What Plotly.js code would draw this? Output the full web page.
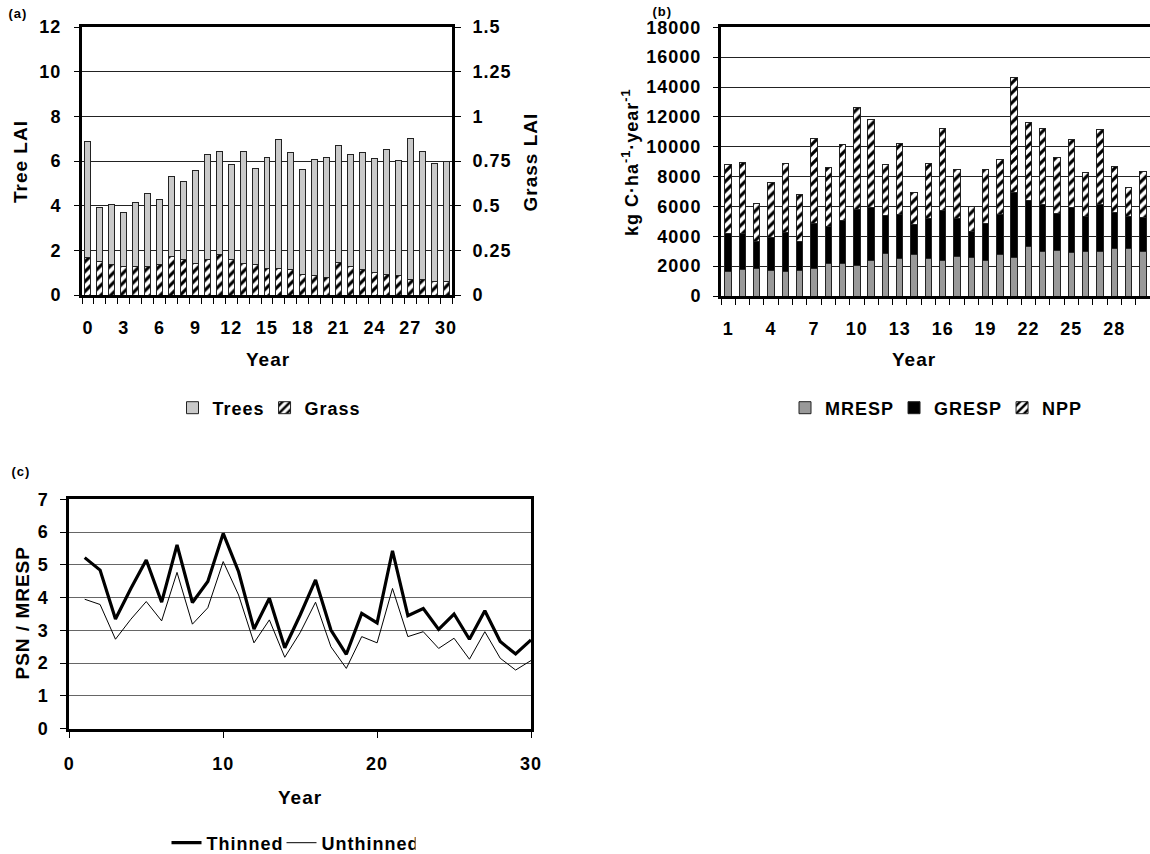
<!DOCTYPE html>
<html>
<head>
<meta charset="utf-8">
<script src="https://cdn.plot.ly/plotly-3.0.1.min.js"></script>
<style>
body{margin:0;padding:0;background:#fff;}
#chart{width:1150px;height:854px;}
.main-svg text{letter-spacing:1px;}
</style>
</head>
<body>
<div id="chart"></div>
<script>
// ---- Panel (a): LAI ----
const yearsA = [0,1,2,3,4,5,6,7,8,9,10,11,12,13,14,15,16,17,18,19,20,21,22,23,24,25,26,27,28,29,30];
const treeLAI = [6.89,3.92,4.05,3.70,4.13,4.55,4.28,5.31,5.08,5.59,6.28,6.41,5.84,6.44,5.65,6.16,6.98,6.37,5.62,6.07,6.16,6.68,6.30,6.37,6.10,6.51,6.04,7.00,6.44,5.89,6.00];
const grassLAI = [0.210,0.186,0.171,0.160,0.160,0.160,0.171,0.218,0.200,0.177,0.200,0.227,0.200,0.177,0.168,0.149,0.149,0.140,0.117,0.110,0.099,0.180,0.158,0.140,0.127,0.117,0.108,0.088,0.088,0.078,0.078];
const tickYearsA = [0,3,6,9,12,15,18,21,24,27,30];
const treeTicks = [0,2,4,6,8,10,12];
const grassTicks = [0,0.25,0.5,0.75,1,1.25,1.5];

// ---- Panel (b): carbon budget ----
const yearsB = [1,2,3,4,5,6,7,8,9,10,11,12,13,14,15,16,17,18,19,20,21,22,23,24,25,26,27,28,29,30];
const mresp = [1633,1790,1834,1700,1655,1700,1812,2192,2192,2036,2371,2864,2506,2752,2506,2371,2640,2573,2349,2752,2595,3311,2975,3020,2908,2975,2975,3199,3199,2975];
const gresp = [2573,2371,1813,2215,2595,1947,3020,2461,2842,3736,3580,2527,2975,2013,2662,3356,2528,1745,2528,2729,4362,3087,3177,2483,3020,2349,3132,2394,2125,2282];
const npp   = [4631,4788,2572,3691,4609,3132,5705,3937,5100,6823,5906,3401,4765,2170,3736,5526,3288,1678,3624,3691,7651,5235,5056,3781,4587,2953,5034,3087,1969,3088];
const tickYearsB = [1,4,7,10,13,16,19,22,25,28];
const carbonTicks = [0,2000,4000,6000,8000,10000,12000,14000,16000,18000];

// ---- Panel (c): PSN / MRESP ----
const yearsC = [1,2,3,4,5,6,7,8,9,10,11,12,13,14,15,16,17,18,19,20,21,22,23,24,25,26,27,28,29,30];
const thinned   = [5.22,4.84,3.35,4.28,5.15,3.86,5.61,3.85,4.49,5.96,4.79,3.04,3.98,2.47,3.47,4.54,3.01,2.27,3.52,3.23,5.43,3.45,3.67,3.03,3.50,2.73,3.60,2.66,2.28,2.71];
const unthinned = [3.95,3.79,2.73,3.34,3.88,3.29,4.77,3.19,3.69,5.10,4.08,2.62,3.32,2.18,2.93,3.86,2.50,1.84,2.81,2.62,4.28,2.81,2.96,2.45,2.76,2.12,2.96,2.15,1.79,2.08];
const tickYearsC = [0,10,20,30];
const ratioTicks = [0,1,2,3,4,5,6,7];

const FONT = 'Liberation Sans, Arial, Helvetica, sans-serif';
const bold = a => a.map(v => '<b>' + v + '</b>');
const tickFont = {family: FONT, size: 18, color: '#000', weight: 'bold'};
const hatch = {shape: '/', fgcolor: '#000', bgcolor: '#fff', size: 7, solidity: 0.45, fillmode: 'replace'};
const outline = {color: '#222', width: 1};

const traces = [
  {type: 'bar', name: '<b>Trees</b>', x: yearsA, y: treeLAI, xaxis: 'x', yaxis: 'y', width: 0.5,
   marker: {color: '#c9c9c9', line: outline}, legend: 'legend'},
  {type: 'bar', name: '<b>Grass</b>', x: yearsA, y: grassLAI, xaxis: 'x', yaxis: 'y2', width: 0.5,
   marker: {color: '#fff', pattern: hatch, line: outline}, legend: 'legend'},
  {type: 'bar', name: '<b>MRESP</b>', x: yearsB, y: mresp, xaxis: 'x2', yaxis: 'y3', width: 0.45,
   marker: {color: '#999999', line: outline}, legend: 'legend2'},
  {type: 'bar', name: '<b>GRESP</b>', x: yearsB, y: gresp, xaxis: 'x2', yaxis: 'y3', width: 0.45,
   marker: {color: '#000000', line: outline}, legend: 'legend2'},
  {type: 'bar', name: '<b>NPP</b>', x: yearsB, y: npp, xaxis: 'x2', yaxis: 'y3', width: 0.45,
   marker: {color: '#fff', pattern: hatch, line: outline}, legend: 'legend2'},
  {type: 'scatter', mode: 'lines', name: '<b>Thinned</b>', x: yearsC, y: thinned, xaxis: 'x3', yaxis: 'y4',
   line: {color: '#000', width: 3.2}, legend: 'legend3'},
  {type: 'scatter', mode: 'lines', name: '<b>Unthinned</b>', x: yearsC, y: unthinned, xaxis: 'x3', yaxis: 'y4',
   line: {color: '#000', width: 1}, legend: 'legend3'}
];

const W = 1150, H = 854;
const px = v => v / W;
const py = v => (H - v) / H;

const legendBase = {orientation: 'h', font: {family: FONT, size: 18, color: '#000', weight: 'bold'},
  bgcolor: 'rgba(0,0,0,0)', xanchor: 'center', yanchor: 'middle', itemwidth: 30, traceorder: 'normal'};

const titleFont = {family: FONT, size: 19, color: '#000', weight: 'bold'};
const ann = (text, x, y, font, angle) => ({text: text, x: px(x), y: py(y), xref: 'paper', yref: 'paper',
  xanchor: 'center', yanchor: 'middle', showarrow: false, textangle: angle || 0, font: font});
const labelFont = {family: FONT, size: 13, color: '#000', weight: 'bold'};

const layout = {
  width: W, height: H,
  margin: {l: 0, r: 0, t: 0, b: 0, autoexpand: false},
  paper_bgcolor: '#fff', plot_bgcolor: '#fff',
  barmode: 'stack',
  showlegend: true,
  font: {family: FONT, color: '#000'},
  // Panel (a)
  xaxis: {domain: [px(82), px(452)], anchor: 'y', range: [-0.5, 30.5],
    tickmode: 'array', tickvals: tickYearsA, ticktext: bold(tickYearsA),
    ticks: 'outside', ticklen: 6, tickcolor: 'rgba(0,0,0,0)', ticklabelstandoff: 8,
    minor: {tick0: -0.5, dtick: 1, ticks: 'outside', ticklen: 6, tickcolor: '#000', tickwidth: 1, showgrid: false},
    showline: true, linewidth: 3, linecolor: '#000', mirror: true, showgrid: false, zeroline: false,
    tickfont: tickFont},
  yaxis: {domain: [py(295), py(27)], anchor: 'x', range: [0, 12],
    tickmode: 'array', tickvals: treeTicks, ticktext: bold(treeTicks),
    ticks: 'outside', ticklen: 5, tickcolor: '#000', ticklabelstandoff: 9,
    showline: true, linewidth: 3, linecolor: '#000', mirror: true,
    showgrid: true, gridcolor: '#222', gridwidth: 1, zeroline: false, tickfont: tickFont},
  yaxis2: {overlaying: 'y', side: 'right', anchor: 'x', range: [0, 1.5],
    tickmode: 'array', tickvals: grassTicks, ticktext: bold(grassTicks),
    ticks: 'outside', ticklen: 6, tickcolor: '#000', ticklabelstandoff: 8,
    showline: true, linewidth: 3, linecolor: '#000', showgrid: false, zeroline: false, tickfont: tickFont},
  // Panel (b)
  xaxis2: {domain: [px(721), 1], anchor: 'y3', range: [0.5, 30.5],
    tickmode: 'array', tickvals: tickYearsB, ticktext: bold(tickYearsB),
    ticks: 'outside', ticklen: 6, tickcolor: 'rgba(0,0,0,0)', ticklabelstandoff: 8,
    minor: {tick0: 0.5, dtick: 1, ticks: 'outside', ticklen: 6, tickcolor: '#000', tickwidth: 1, showgrid: false},
    showline: true, linewidth: 3, linecolor: '#000', mirror: true, showgrid: false, zeroline: false,
    tickfont: tickFont},
  yaxis3: {domain: [py(296), py(27.3)], anchor: 'x2', range: [0, 18000],
    tickmode: 'array', tickvals: carbonTicks, ticktext: bold(carbonTicks),
    ticks: 'outside', ticklen: 5, tickcolor: '#000', ticklabelstandoff: 8,
    showline: true, linewidth: 3, linecolor: '#000', mirror: false,
    showgrid: true, gridcolor: '#222', gridwidth: 1, zeroline: false, tickfont: tickFont},
  // Panel (c)
  xaxis3: {domain: [px(69.3), px(531)], anchor: 'y4', range: [0, 30],
    tickmode: 'array', tickvals: tickYearsC, ticktext: bold(tickYearsC),
    ticks: 'outside', ticklen: 6, tickcolor: '#000', ticklabelstandoff: 11,
    showline: true, linewidth: 3, linecolor: '#000', mirror: true, showgrid: false, zeroline: false,
    tickfont: tickFont},
  yaxis4: {domain: [py(728.7), py(499.3)], anchor: 'x3', range: [0, 7],
    tickmode: 'array', tickvals: ratioTicks, ticktext: bold(ratioTicks),
    ticks: 'outside', ticklen: 6, tickcolor: '#000', ticklabelstandoff: 8,
    showline: true, linewidth: 3, linecolor: '#000', mirror: true,
    showgrid: true, gridcolor: '#666', gridwidth: 1, zeroline: false, tickfont: tickFont},
  legend: Object.assign({}, legendBase, {x: px(267), y: py(408)}),
  legend2: Object.assign({}, legendBase, {x: px(935), y: py(408)}),
  legend3: Object.assign({}, legendBase, {x: px(291), y: py(843)}),
  annotations: [
    ann('<b>(a)</b>', 18, 13, labelFont),
    ann('<b>(b)</b>', 662, 11, labelFont),
    ann('<b>(c)</b>', 21, 472, labelFont),
    ann('<b>Tree LAI</b>', 20, 162, titleFont, -90),
    ann('<b>Grass LAI</b>', 530, 162, titleFont, -90),
    ann('<b>kg C·ha<sup>-1</sup>·year<sup>-1</sup></b>', 630, 162, {family: FONT, size: 18, color: '#000', weight: 'bold'}, -90),
    ann('<b>PSN / MRESP</b>', 22, 613, titleFont, -90),
    ann('<b>Year</b>', 268, 359, titleFont),
    ann('<b>Year</b>', 914, 359, titleFont),
    ann('<b>Year</b>', 300, 797, titleFont)
  ]
};

Plotly.newPlot('chart', traces, layout, {staticPlot: true, displayModeBar: false});
</script>
</body>
</html>
